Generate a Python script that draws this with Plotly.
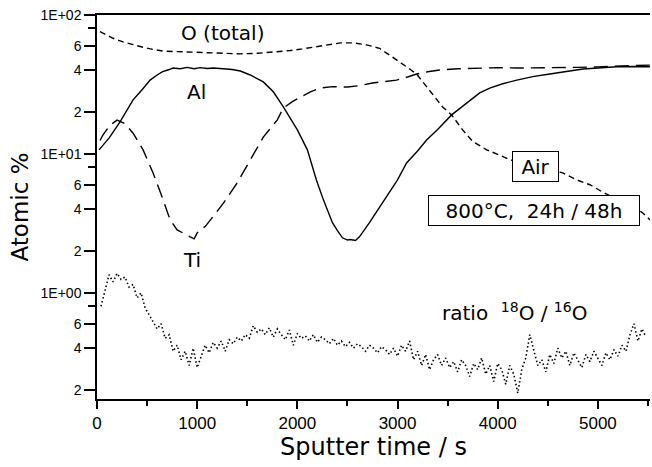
import plotly.graph_objects as go

# ---------------- data ----------------
al_t = [20, 120, 230, 360, 450, 530, 600, 650, 720, 760, 830, 900, 970, 1030, 1100, 1160,
        1260, 1350, 1430, 1530, 1660, 1760, 1860, 1930, 2000, 2100, 2190, 2260, 2350, 2400,
        2450, 2500, 2530, 2580, 2620, 2720, 2800, 2890, 3000, 3090, 3200, 3290, 3400, 3540,
        3690, 3820, 3920, 4050, 4190, 4350, 4520, 4700, 4850, 5000, 5190, 5350, 5520]
al_v = [10.7, 13, 17, 24.5, 29, 34, 37, 39, 40.5, 41.5, 41, 42, 41, 41.8, 41.2, 41.5,
        41, 40.5, 39.5, 37, 33, 28, 21.8, 18.2, 14.9, 10.7, 6.5, 4.67, 3.2, 2.8,
        2.49, 2.4, 2.42, 2.38, 2.53, 3.2, 3.9, 4.9, 6.5, 8.6, 10.5, 12.6, 15, 19.1,
        23.3, 27.5, 29.8, 32, 34, 36, 37.6, 39.5, 40.9, 41.5, 42.4, 42.6, 42.4]

ti_t = [30, 60, 130, 200, 280, 360, 460, 560, 650, 730, 800, 850, 900, 930, 970, 1000,
        1030, 1080, 1130, 1260, 1400, 1530, 1660, 1800, 1860, 1950, 2030, 2130, 2230, 2350,
        2500, 2620, 2750, 2870, 2990, 3100, 3190, 3300, 3420, 3600, 3820, 4000, 4200, 4520,
        4800, 5000, 5190, 5350, 5520]
ti_v = [12.5, 13.7, 16.1, 17.5, 16.5, 14.1, 10.7, 7.3, 4.9, 3.35, 2.84, 2.7, 2.6, 2.53, 2.45, 2.7,
        2.84, 3.0, 3.35, 4.4, 6.2, 9.1, 13.2, 17.6, 21.4, 23.8, 25.7, 28, 29.8, 30.5,
        30.3, 31, 32.4, 33, 34, 35.8, 37.6, 39, 40.2, 41, 41.6, 41.8, 41.5, 41.6,
        42, 42.3, 43, 43.2, 43.6]

o_t = [30, 60, 160, 260, 360, 460, 560, 660, 800, 930, 1100, 1260, 1430, 1600, 1770, 1930,
       2050, 2160, 2300, 2430, 2560, 2690, 2820, 2950, 3090, 3190, 3320, 3450, 3540, 3650,
       3750, 3890, 4020, 4120, 4250, 4390, 4520, 4650, 4790, 4920, 5050, 5150, 5250, 5350,
       5440, 5520]
o_v = [76, 74, 68, 64, 61, 58.6, 56.5, 55, 54.5, 54, 53.5, 53, 52.5, 53, 54, 55.5,
       57, 58.6, 61, 63, 63, 61, 57.6, 50, 42.4, 37.6, 28.9, 21.8, 19.1, 14.9,
       12.3, 10.7, 9.8, 9.1, 8.6, 8, 7.7, 7.3, 6.5, 6, 5.3, 4.9, 4.5, 4.1,
       3.8, 3.35]

ratio_v = [0.8, 1.05, 1.35, 1.2, 1.38, 1.25, 1.3, 1.1, 1.15, 0.92, 1.0, 0.78, 0.7, 0.62, 0.55,
           0.6, 0.47, 0.5, 0.38, 0.42, 0.33, 0.38, 0.3, 0.4, 0.29, 0.35, 0.42, 0.37, 0.44,
           0.4, 0.45, 0.38, 0.46, 0.43, 0.48, 0.45, 0.5, 0.47, 0.58, 0.52, 0.55, 0.5, 0.56,
           0.48, 0.55, 0.5, 0.46, 0.54, 0.42, 0.51, 0.47, 0.49, 0.45, 0.5, 0.44, 0.48, 0.46,
           0.43, 0.47, 0.42, 0.45, 0.41, 0.44, 0.4, 0.43, 0.41, 0.38, 0.42, 0.4, 0.37, 0.41,
           0.39, 0.36, 0.4, 0.35, 0.42, 0.38, 0.45, 0.33, 0.38, 0.3, 0.36, 0.28, 0.33, 0.36,
           0.3, 0.34, 0.29, 0.32, 0.27, 0.33, 0.3, 0.25, 0.31, 0.28, 0.34, 0.26, 0.3, 0.23,
           0.31, 0.28, 0.22, 0.3, 0.26, 0.19, 0.28, 0.34, 0.5, 0.38, 0.3, 0.33, 0.27, 0.36,
           0.31, 0.4, 0.34, 0.38, 0.3, 0.37, 0.33, 0.29, 0.36, 0.32, 0.38, 0.34, 0.3, 0.37,
           0.33, 0.39, 0.35, 0.42, 0.38, 0.5, 0.6, 0.45, 0.55, 0.48]
ratio_step = 40  # sampling interval, s
ratio_t = [ratio_step * (i + 1) for i in range(len(ratio_v))]

x_ticks = [0, 1000, 2000, 3000, 4000, 5000]
x_minor = [500, 1500, 2500, 3500, 4500, 5500]
y_ticks = [0.2, 0.4, 0.6, 1, 2, 4, 6, 10, 20, 40, 60, 100]
y_ticktext = ["2", "4", "6", "1E+00", "2", "4", "6", "1E+01", "2", "4", "6", "1E+02"]
y_minor = [0.8, 8, 80]

# ---------------- figure ----------------
FONT = "DejaVu Sans"
fig = go.Figure()
line = dict(color="black", width=1.4)
fig.add_trace(go.Scatter(x=o_t, y=o_v, mode="lines", line=dict(line, dash="6px,4px")))
fig.add_trace(go.Scatter(x=ti_t, y=ti_v, mode="lines", line=dict(line, dash="14px,7px")))
fig.add_trace(go.Scatter(x=al_t, y=al_v, mode="lines", line=dict(line)))
fig.add_trace(go.Scatter(x=ratio_t, y=ratio_v, mode="lines",
                         line=dict(color="black", width=1.6, dash="1.5px,2.5px")))

ann_font = dict(family=FONT, size=20, color="black")
fig.add_annotation(x=1248, y=1.871, text="O (total)", showarrow=False, font=ann_font)
fig.add_annotation(x=998, y=1.446, text="Al", showarrow=False, font=ann_font)
fig.add_annotation(x=948, y=0.237, text="Ti", showarrow=False, font=ann_font)
fig.add_annotation(x=4381, y=0.906, text="Air", showarrow=False, font=ann_font,
                   bgcolor="white", bordercolor="black", borderwidth=1, borderpad=1,
                   width=43, height=27)
fig.add_annotation(x=4361, y=0.590, text="800°C,  24h / 48h", showarrow=False, font=ann_font,
                   bgcolor="white", bordercolor="black", borderwidth=1, borderpad=1,
                   width=208, height=27)
fig.add_annotation(x=4172, y=-0.137, text="ratio  <sup>18</sup>O / <sup>16</sup>O",
                   showarrow=False, font=ann_font)

fig.update_layout(
    width=652, height=467,
    margin=dict(l=97, r=2, t=15, b=68),
    paper_bgcolor="white", plot_bgcolor="white",
    showlegend=False,
    xaxis=dict(
        range=[0, 5520], showgrid=False, zeroline=False,
        showline=True, linecolor="black", linewidth=1.5, mirror=True,
        tickmode="array", tickvals=x_ticks, ticks="outside", ticklen=8, tickwidth=1.5,
        tickcolor="black",
        minor=dict(tickvals=x_minor, ticks="outside", ticklen=5, tickwidth=1.5, tickcolor="black"),
        tickfont=dict(family="Liberation Sans", size=17, color="black"),
        title=dict(text="Sputter time / s", font=dict(family=FONT, size=24, color="black"),
                   standoff=2),
    ),
    yaxis=dict(
        type="log", range=[-0.764, 2], showgrid=False, zeroline=False,
        showline=True, linecolor="black", linewidth=1.5,
        tickmode="array", tickvals=y_ticks, ticktext=y_ticktext,
        ticks="outside", ticklen=11, tickwidth=1.5, tickcolor="black",
        minor=dict(tickvals=y_minor, ticks="outside", ticklen=7, tickwidth=1.5, tickcolor="black"),
        tickfont=dict(family="Liberation Sans", size=14, color="black"),
        title=dict(text="Atomic %", font=dict(family=FONT, size=23, color="black"),
                   standoff=6),
    ),
)

fig.write_html("out.html")
